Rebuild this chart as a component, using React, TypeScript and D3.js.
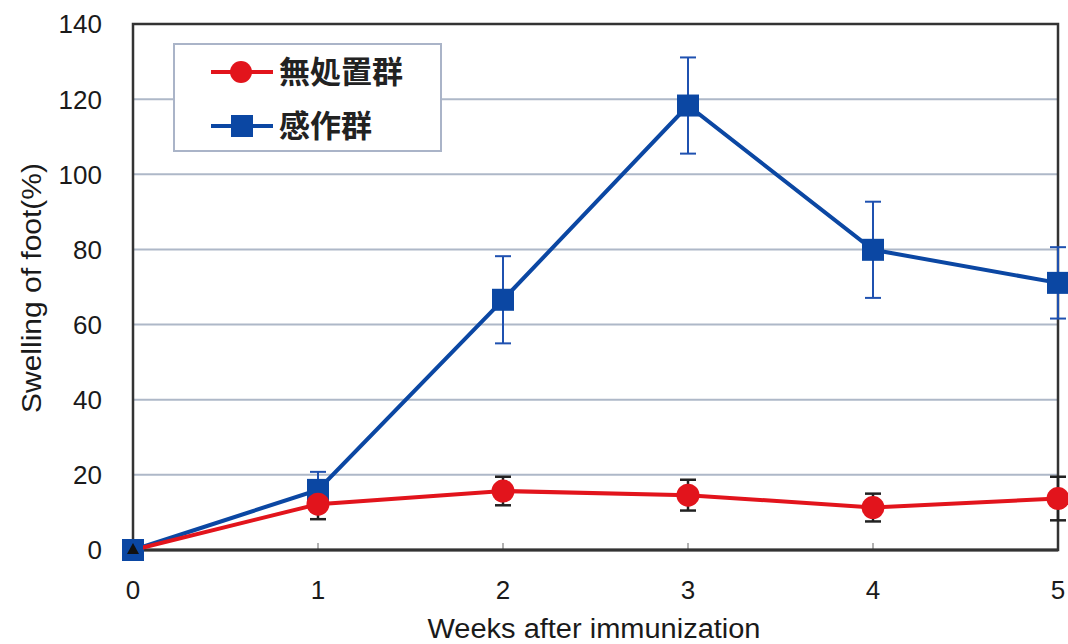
import React from "react";
import * as d3 from "d3";

const weeks = [0, 1, 2, 3, 4, 5];
const controlMean = [0, 12.2, 15.7, 14.6, 11.3, 13.7];
const controlErr = [0, 4.0, 3.8, 4.1, 3.7, 5.8];
const sensMean = [0, 16.0, 66.6, 118.3, 79.9, 71.1];
const sensErr = [0, 4.8, 11.6, 12.8, 12.8, 9.5];
const yTicks = [0, 20, 40, 60, 80, 100, 120, 140];
const xTicks = [0, 1, 2, 3, 4, 5];
const seriesNames = ["無処置群", "感作群"];

const W = 1068;
const H = 644;
const left = 133;
const right = 1058;
const top = 24;
const bottom = 550;

export default function App() {
  const x = d3.scaleLinear().domain([0, 5]).range([left, right]);
  const y = d3.scaleLinear().domain([0, 140]).range([bottom, top]);
  const line = d3
    .line<number>()
    .x((_, i) => x(weeks[i]))
    .y((d) => y(d));

  const red = "#e2141c";
  const blue = "#0b47a3";
  const latin = "'Liberation Sans', Arial, sans-serif";
  const cjk = "'Noto Sans CJK JP', sans-serif";
  const ms = 11;

  return (
    <svg
      width={W}
      height={H}
      style={{ position: "fixed", left: 0, top: 0, background: "#fff" }}
    >
      <rect x={0} y={0} width={W} height={H} fill="#fff" />
      {/* gridlines */}
      {yTicks
        .filter((t) => t > 0 && t < 140)
        .map((t) => (
          <line
            key={"g" + t}
            x1={left}
            x2={right}
            y1={y(t)}
            y2={y(t)}
            stroke="#aeb8c8"
            strokeWidth={2}
          />
        ))}
      {/* x minor ticks */}
      {xTicks
        .filter((t) => t > 0 && t < 5)
        .map((t) => (
          <line
            key={"xt" + t}
            x1={x(t)}
            x2={x(t)}
            y1={bottom}
            y2={bottom - 7}
            stroke="#999"
            strokeWidth={1.5}
          />
        ))}
      {/* frame */}
      <rect
        x={left}
        y={top}
        width={right - left}
        height={bottom - top}
        fill="none"
        stroke="#333"
        strokeWidth={2.5}
      />
      <line x1={left} x2={right} y1={bottom} y2={bottom} stroke="#333" strokeWidth={3} />
      {/* y tick labels */}
      {yTicks.map((t) => (
        <text
          key={"yl" + t}
          x={102}
          y={y(t)}
          dy="0.36em"
          textAnchor="end"
          fontFamily={latin}
          fontSize={26}
          fill="#1a1a1a"
        >
          {t}
        </text>
      ))}
      {/* x tick labels */}
      {xTicks.map((t) => (
        <text
          key={"xl" + t}
          x={x(t)}
          y={590}
          dy="0.36em"
          textAnchor="middle"
          fontFamily={latin}
          fontSize={26}
          fill="#1a1a1a"
        >
          {t}
        </text>
      ))}
      <text
        x={594}
        y={638}
        textAnchor="middle"
        fontFamily={latin}
        fontSize={27}
        textLength={333}
        lengthAdjust="spacingAndGlyphs"
        fill="#1a1a1a"
      >
        Weeks after immunization
      </text>
      <text
        transform={`translate(41,${288}) rotate(-90)`}
        textAnchor="middle"
        fontFamily={latin}
        fontSize={27}
        textLength={250}
        lengthAdjust="spacingAndGlyphs"
        fill="#1a1a1a"
      >
        Swelling of foot(%)
      </text>

      {/* control error bars */}
      {controlMean.map((m, i) =>
        controlErr[i] > 0 ? (
          <g key={"ce" + i} stroke="#222" strokeWidth={2.5}>
            <line x1={x(weeks[i])} x2={x(weeks[i])} y1={y(m - controlErr[i])} y2={y(m + controlErr[i])} />
            <line x1={x(weeks[i]) - 8} x2={x(weeks[i]) + 8} y1={y(m - controlErr[i])} y2={y(m - controlErr[i])} />
            <line x1={x(weeks[i]) - 8} x2={x(weeks[i]) + 8} y1={y(m + controlErr[i])} y2={y(m + controlErr[i])} />
          </g>
        ) : null
      )}
      {/* sensitized error bars */}
      {sensMean.map((m, i) =>
        sensErr[i] > 0 ? (
          <g key={"se" + i} stroke="#1f51b0" strokeWidth={2}>
            <line x1={x(weeks[i])} x2={x(weeks[i])} y1={y(m - sensErr[i])} y2={y(m + sensErr[i])} />
            <line x1={x(weeks[i]) - 8} x2={x(weeks[i]) + 8} y1={y(m - sensErr[i])} y2={y(m - sensErr[i])} />
            <line x1={x(weeks[i]) - 8} x2={x(weeks[i]) + 8} y1={y(m + sensErr[i])} y2={y(m + sensErr[i])} />
          </g>
        ) : null
      )}

      {/* sensitized line */}
      <path d={line(sensMean) || ""} fill="none" stroke={blue} strokeWidth={4} />
      {sensMean.map((m, i) => (
        <rect
          key={"sm" + i}
          x={x(weeks[i]) - ms}
          y={y(m) - ms}
          width={ms * 2}
          height={ms * 2}
          fill={blue}
        />
      ))}
      {/* control line */}
      <path d={line(controlMean) || ""} fill="none" stroke={red} strokeWidth={4} />
      {controlMean.map((m, i) =>
        i > 0 ? (
          <circle key={"cm" + i} cx={x(weeks[i])} cy={y(m)} r={11.5} fill={red} />
        ) : null
      )}
      {/* origin marker */}
      <rect x={x(0) - 10} y={y(0) - 10} width={20} height={20} fill={blue} />
      <path
        d={`M${x(0)},${y(0) - 7} L${x(0) + 6},${y(0) + 4} L${x(0) - 6},${y(0) + 4} Z`}
        fill="#111"
      />

      {/* legend */}
      <rect x={174} y={44} width={267} height={107} fill="#fff" stroke="#aab4c8" strokeWidth={2} />
      <line x1={211} x2={273} y1={72} y2={72} stroke={red} strokeWidth={4} />
      <circle cx={241} cy={72} r={11} fill={red} />
      <text x={279} y={72} dy="0.36em" fontFamily={cjk} fontWeight={700} fontSize={31} fill="#222">
        {seriesNames[0]}
      </text>
      <line x1={211} x2={273} y1={126} y2={126} stroke={blue} strokeWidth={4} />
      <rect x={231} y={115} width={22} height={22} fill={blue} />
      <text x={279} y={126} dy="0.36em" fontFamily={cjk} fontWeight={700} fontSize={31} fill="#222">
        {seriesNames[1]}
      </text>
    </svg>
  );
}
